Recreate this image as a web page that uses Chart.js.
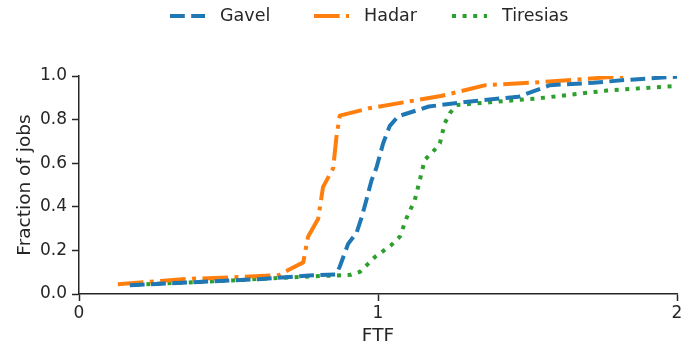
<!DOCTYPE html>
<html>
<head>
<meta charset="utf-8">
<script src="https://cdn.jsdelivr.net/npm/chart.js@4.4.1/dist/chart.umd.min.js"></script>
<style>
  html, body { margin: 0; padding: 0; background: #ffffff; }
  #wrap { width: 693px; height: 345px; }
</style>
</head>
<body>
<div id="wrap"><canvas id="cdf" width="693" height="345"></canvas></div>
<script>
// CDF of finish-time fairness (FTF) per scheduler
const gavelFtf = [0.17, 0.40, 0.60, 0.77, 0.86, 0.872, 0.90, 0.928, 0.945, 0.961, 0.978, 0.995, 1.017, 1.039, 1.067, 1.17, 1.30, 1.47, 1.575, 1.72, 1.83, 2.0];
const gavelFrac = [0.040, 0.055, 0.068, 0.085, 0.090, 0.125, 0.23, 0.28, 0.35, 0.43, 0.52, 0.58, 0.69, 0.77, 0.815, 0.86, 0.882, 0.905, 0.958, 0.969, 0.982, 0.997];

const hadarFtf = [0.13, 0.36, 0.50, 0.67, 0.70, 0.75, 0.766, 0.80, 0.816, 0.85, 0.861, 0.872, 0.97, 1.21, 1.36, 1.51, 1.68, 1.82];
const hadarFrac = [0.045, 0.069, 0.076, 0.087, 0.11, 0.145, 0.263, 0.345, 0.49, 0.577, 0.72, 0.818, 0.852, 0.908, 0.958, 0.969, 0.985, 1.0];

const tiresiasFtf = [0.19, 0.45, 0.70, 0.91, 0.94, 0.99, 1.045, 1.073, 1.095, 1.123, 1.14, 1.156, 1.184, 1.207, 1.223, 1.24, 1.263, 1.54, 1.765, 2.0];
const tiresiasFrac = [0.043, 0.058, 0.076, 0.088, 0.102, 0.17, 0.225, 0.263, 0.347, 0.431, 0.523, 0.615, 0.653, 0.691, 0.783, 0.829, 0.867, 0.898, 0.933, 0.955];

const seriesNames = ['Gavel', 'Hadar', 'Tiresias'];
const xTickValues = [0, 1, 2];
const yTickValues = [0.0, 0.2, 0.4, 0.6, 0.8, 1.0];

const INK = '#262626';
const FONT = "'DejaVu Sans', 'Liberation Sans', sans-serif";
const LW = 4;

function pts(xs, ys) { return xs.map((x, i) => ({ x: x, y: ys[i] })); }

const styles = [
  { color: '#1f77b4', dash: [3.7 * LW, 1.6 * LW] },
  { color: '#ff7f0e', dash: [6.4 * LW, 1.6 * LW, 1 * LW, 1.6 * LW] },
  { color: '#2ca02c', dash: [1 * LW, 1.65 * LW] }
];
const seriesData = [pts(gavelFtf, gavelFrac), pts(hadarFtf, hadarFrac), pts(tiresiasFtf, tiresiasFrac)];

const datasets = seriesNames.map((name, i) => ({
  label: name,
  data: seriesData[i],
  borderColor: styles[i].color,
  backgroundColor: styles[i].color,
  borderWidth: LW,
  borderDash: styles[i].dash,
  borderCapStyle: 'butt',
  borderJoinStyle: 'round',
  pointRadius: 0,
  tension: 0,
  fill: false
}));

// legend drawn across the top: dashed handle followed by the series name
const topLegend = {
  id: 'topLegend',
  afterDraw(chart, args, opts) {
    const ctx = chart.ctx;
    ctx.save();
    chart.data.datasets.forEach((ds, i) => {
      const x = opts.starts[i];
      ctx.beginPath();
      ctx.setLineDash(ds.borderDash || []);
      ctx.lineCap = 'butt';
      ctx.lineWidth = ds.borderWidth;
      ctx.strokeStyle = ds.borderColor;
      ctx.moveTo(x, opts.y);
      ctx.lineTo(x + opts.handle, opts.y);
      ctx.stroke();
      ctx.setLineDash([]);
      ctx.fillStyle = INK;
      ctx.font = opts.fontSize + 'px ' + FONT;
      ctx.textBaseline = 'middle';
      ctx.textAlign = 'left';
      ctx.fillText(ds.label, x + opts.handle + opts.gap, opts.y);
    });
    ctx.restore();
  }
};

new Chart(document.getElementById('cdf'), {
  type: 'line',
  data: { datasets: datasets },
  plugins: [topLegend],
  options: {
    responsive: false,
    animation: false,
    devicePixelRatio: 1,
    layout: { padding: { top: 76, right: 16, bottom: 0, left: 0 } },
    plugins: {
      legend: { display: false },
      tooltip: { enabled: false },
      topLegend: { starts: [170, 314, 452], y: 16, handle: 35, gap: 15, fontSize: 17.5 }
    },
    scales: {
      x: {
        type: 'linear',
        min: 0, max: 2,
        afterBuildTicks: s => { s.ticks = xTickValues.map(v => ({ value: v })); },
        afterFit: s => { s.height = 51; },
        ticks: { color: INK, font: { family: FONT, size: 17 }, padding: 2, maxRotation: 0, callback: v => String(v) },
        grid: { display: true, drawOnChartArea: false, drawTicks: true, tickLength: 7, tickWidth: 1.5, tickColor: INK },
        border: { display: true, color: INK, width: 1.5 },
        title: { display: true, text: 'FTF', color: INK, font: { family: FONT, size: 18.5, lineHeight: 1 }, padding: { top: 0, bottom: 0 } }
      },
      y: {
        type: 'linear',
        min: 0, max: 1,
        afterBuildTicks: s => { s.ticks = yTickValues.map(v => ({ value: v })); },
        afterFit: s => { s.width = 79; },
        ticks: { color: INK, font: { family: FONT, size: 17 }, padding: 5, callback: v => Number(v).toFixed(1) },
        grid: { display: true, drawOnChartArea: false, drawTicks: true, tickLength: 7, tickWidth: 1.5, tickColor: INK },
        border: { display: true, color: INK, width: 1.5 },
        title: { display: true, text: 'Fraction of jobs', color: INK, font: { family: FONT, size: 18.5 }, padding: { top: 14.4, bottom: 0 } }
      }
    }
  }
});
</script>
</body>
</html>
